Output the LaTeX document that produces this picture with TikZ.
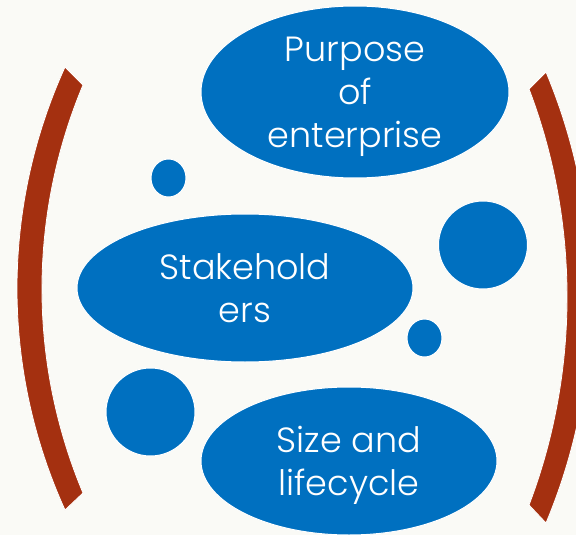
\documentclass[tikz,border=0pt]{standalone}
\usepackage{fontspec}
\setmainfont{Poppins Light}
\usetikzlibrary{shapes.geometric}
\definecolor{slideblue}{RGB}{0,112,192}
\definecolor{brick}{RGB}{164,48,16}
\definecolor{paper}{RGB}{250,250,246}
\begin{document}
\begin{tikzpicture}[x=1pt,y=-1pt,
		blob/.style={ellipse,fill=slideblue,draw=white,line width=1pt,inner sep=0pt},
		words/.style={text=white,align=center,inner sep=0pt,font=\fontsize{35}{43}\selectfont},
		paren/.style={fill=brick,draw=white,line width=.8pt}]
	\fill[paper] (0,0) rectangle (576,535);
	\useasboundingbox (0,0) rectangle (576,535);
	% brackets
	\draw[paren] (65,67) .. controls (1,208) and (1,369) .. (65,510) -- (83,493)
		.. controls (28.3,362) and (28.3,216) .. (83,85) -- cycle;
	\draw[paren] (546,72) .. controls (606,215) and (606,380) .. (546,523) -- (529,505)
		.. controls (579.7,372) and (579.7,222) .. (529,89) -- cycle;
	% bubbles
	\node[blob,minimum width=308,minimum height=172] (purpose) at (355,92) {};
	\node[blob,minimum width=336,minimum height=148] (stake) at (245,288) {};
	\node[blob,minimum width=296,minimum height=148] (size) at (349,461) {};
	\node[blob,minimum width=35,minimum height=38] (dotA) at (168.5,178) {};
	\node[blob,minimum width=89,minimum height=88] (dotB) at (483,245) {};
	\node[blob,minimum width=35,minimum height=38] (dotC) at (424.5,338) {};
	\node[blob,minimum width=89,minimum height=88] (dotD) at (150.5,412) {};
	\node[words,yshift=-5pt] (purposetxt) at (purpose.center) {Purpose\\of\\enterprise};
	\node[words] (staketxt) at (stake.center) {Stakehold\\ers};
	\node[words,yshift=-4pt] (sizetxt) at (size.center) {Size and\\lifecycle};
\end{tikzpicture}
\end{document}
